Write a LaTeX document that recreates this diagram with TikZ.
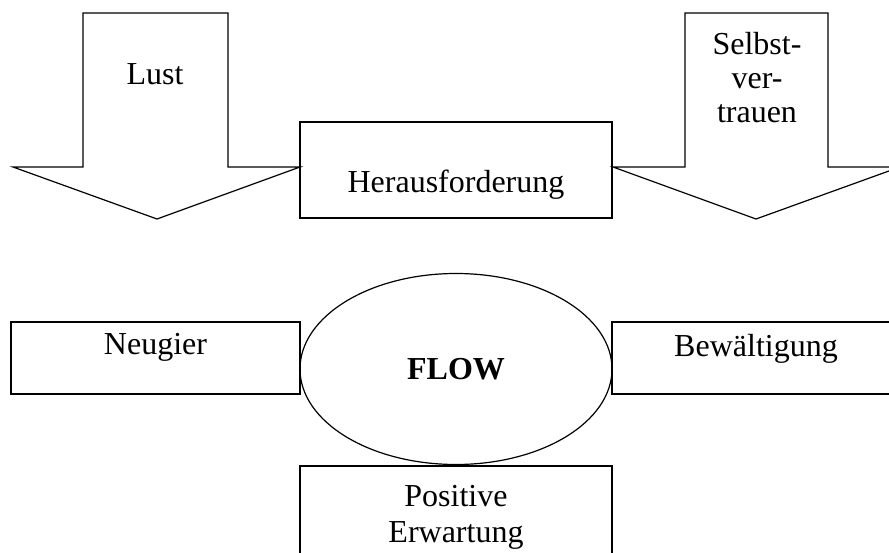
\documentclass[tikz,border=0pt]{standalone}
\usepackage{fontspec}
\setmainfont{Liberation Serif}
\usetikzlibrary{shapes.geometric}

\begin{document}
\begin{tikzpicture}[
    x=1pt, y=-1pt,
    line width=1.2pt,
    every node/.style={font=\fontsize{32}{36}\selectfont},
    box/.style={rectangle, draw, inner sep=0pt, align=center},
    flowring/.style={ellipse, draw, inner sep=0pt,
                     minimum width=312pt, minimum height=191pt},
    blockarrow/.style={draw, line join=miter}
]
\clip (0,0) rectangle (889,553);

% block arrows on top
\draw[blockarrow] (83,13) -- (228,13) -- (228,167) -- (300,167)
    -- (157,219) -- (13,167) -- (83,167) -- cycle;
\draw[blockarrow] (685,13) -- (828,13) -- (828,167) -- (900,167)
    -- (756,219) -- (613,167) -- (685,167) -- cycle;
\node[anchor=base] (lust) at (155,85) {Lust};
\node[anchor=base, align=center, font=\fontsize{32}{34}\selectfont]
    (selbst) at (757,123) {Selbst-\\ver-\\trauen};

\node[box, minimum width=312pt, text height=71pt, text depth=25pt]
    (heraus) at (456,170) {Herausforderung};

% lower part
\node[flowring] (flow) at (456,369) {\textbf{FLOW}};
\node[box, minimum width=289pt, text height=33pt, text depth=39pt]
    (neugier) at (155.5,358) {Neugier};
\node[box, minimum width=288pt, text height=34pt, text depth=38pt]
    (bewaelt) at (756,358) {Bewältigung};
\node[box, minimum width=312pt, text height=76pt, text depth=83pt]
    (positiv) at (456,545.5) {Positive\\Erwartung};
\end{tikzpicture}
\end{document}
